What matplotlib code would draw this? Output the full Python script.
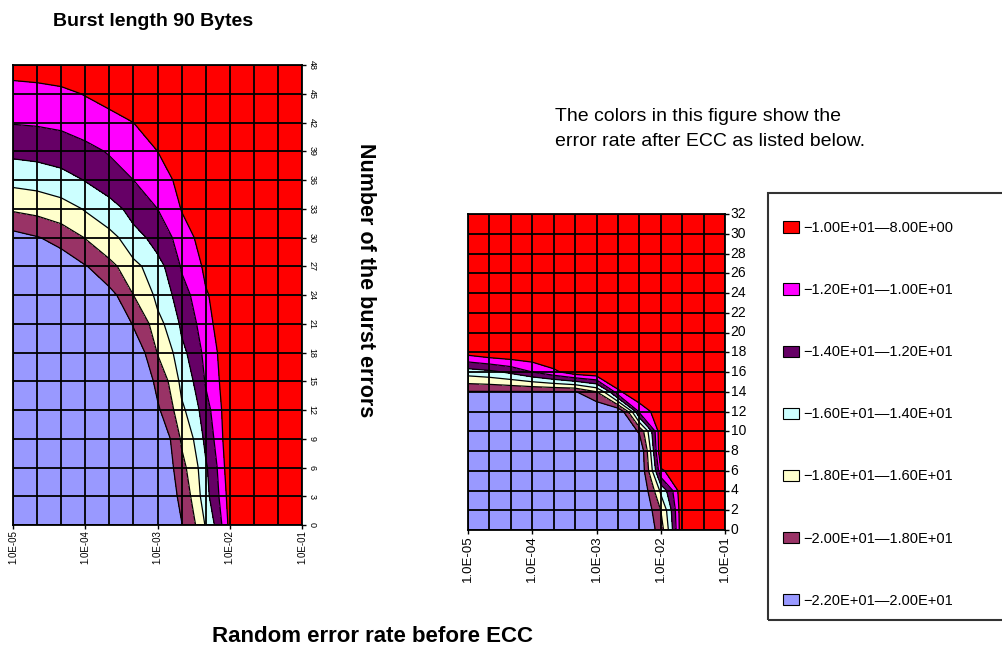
import numpy as np
import matplotlib
matplotlib.use('Agg')
import matplotlib.pyplot as plt
from matplotlib.patches import Patch, Rectangle
from matplotlib.colors import ListedColormap, BoundaryNorm
from matplotlib.ticker import NullFormatter

plt.rcParams['font.family'] = ['Liberation Sans', 'DejaVu Sans']

# ---------------- data ----------------
random_error_rate = [1.0e-05, 2.15e-05, 4.64e-05, 1.0e-04, 2.15e-04, 4.64e-04,
                     1.0e-03, 2.15e-03, 4.64e-03, 1.0e-02, 2.15e-02, 4.64e-02, 1.0e-01]
x_tick_values = [1e-5, 1e-4, 1e-3, 1e-2, 1e-1]
x_tick_labels = ["1.0E-05", "1.0E-04", "1.0E-03", "1.0E-02", "1.0E-01"]

left_burst_counts = [0, 3, 6, 9, 12, 15, 18, 21, 24, 27, 30, 33, 36, 39, 42, 45, 48]
right_burst_counts = [0, 2, 4, 6, 8, 10, 12, 14, 16, 18, 20, 22, 24, 26, 28, 30, 32]

# log10(error rate after ECC); rows = burst counts (bottom to top), cols = random error rate
left_log_error = [
    [-22, -22, -22, -22, -22, -22, -22, -20.1, -15.8, -9.3, -8, -8, -8],
    [-22, -22, -22, -22, -22, -22, -21.9, -19.4, -14.6, -8.9, -8, -8, -8],
    [-22, -22, -22, -22, -22, -22, -21.9, -18.6, -14.3, -8.3, -8, -8, -8],
    [-22, -22, -22, -22, -22, -22, -21.8, -17.7, -13.4, -8, -8, -8, -8],
    [-22, -22, -22, -22, -22, -22, -20.3, -16.4, -12.7, -8, -8, -8, -8],
    [-22, -22, -22, -22, -22, -22, -19.4, -15.4, -11.8, -8, -8, -8, -8],
    [-22, -22, -22, -22, -22, -21.3, -17.9, -14.5, -11.3, -8, -8, -8, -8],
    [-22, -22, -22, -22, -22, -19.8, -16.6, -13.6, -10.6, -8, -8, -8, -8],
    [-22, -22, -22, -22, -20.6, -18.0, -15.4, -12.7, -10.2, -8, -8, -8, -8],
    [-21.8, -21.5, -21.4, -20.1, -18.5, -16.5, -14.6, -11.8, -9.5, -8, -8, -8, -8],
    [-20.7, -20.1, -19.1, -17.9, -16.6, -14.6, -13.2, -10.9, -8.8, -8, -8, -8, -8],
    [-17.7, -17.3, -16.8, -15.8, -14.6, -13.3, -12.0, -9.9, -8.4, -8, -8, -8, -8],
    [-15.4, -15.2, -14.7, -13.9, -13.1, -12.0, -11.2, -9.0, -8, -8, -8, -8, -8],
    [-13.5, -13.3, -13.0, -12.5, -11.8, -11.0, -10.0, -8.5, -8, -8, -8, -8, -8],
    [-11.9, -11.8, -11.6, -11.1, -10.6, -10.0, -9.0, -8.2, -8, -8, -8, -8, -8],
    [-10.6, -10.5, -10.3, -9.9, -9.3, -9.0, -8.5, -8, -8, -8, -8, -8, -8],
    [-9.3, -9.2, -9.1, -9.0, -8.7, -8.6, -8.2, -8, -8, -8, -8, -8, -8],
]

right_log_error = [
    [-22, -22, -22, -22, -22, -22, -22, -22, -22, -19, -8, -8, -8],
    [-22, -22, -22, -22, -22, -22, -22, -22, -22, -18, -8, -8, -8],
    [-22, -22, -22, -22, -22, -22, -22, -22, -22, -15.5, -8, -8, -8],
    [-22, -22, -22, -22, -22, -22, -22, -22, -22, -10.3, -8, -8, -8],
    [-22, -22, -22, -22, -22, -22, -22, -22, -22, -8, -8, -8, -8],
    [-22, -22, -22, -22, -22, -22, -22, -22, -19.7, -8, -8, -8, -8],
    [-22, -22, -22, -22, -22, -22, -22, -22, -11.5, -8, -8, -8, -8],
    [-20.1, -20.1, -20.1, -20.1, -20.1, -20.1, -18, -10.3, -8, -8, -8, -8, -8],
    [-15, -14.5, -13.5, -12, -10.4, -8.6, -8, -8, -8, -8, -8, -8, -8],
    [-9.1, -8.3, -8, -8, -8, -8, -8, -8, -8, -8, -8, -8, -8],
    [-8, -8, -8, -8, -8, -8, -8, -8, -8, -8, -8, -8, -8],
    [-8, -8, -8, -8, -8, -8, -8, -8, -8, -8, -8, -8, -8],
    [-8, -8, -8, -8, -8, -8, -8, -8, -8, -8, -8, -8, -8],
    [-8, -8, -8, -8, -8, -8, -8, -8, -8, -8, -8, -8, -8],
    [-8, -8, -8, -8, -8, -8, -8, -8, -8, -8, -8, -8, -8],
    [-8, -8, -8, -8, -8, -8, -8, -8, -8, -8, -8, -8, -8],
    [-8, -8, -8, -8, -8, -8, -8, -8, -8, -8, -8, -8, -8],
]

levels = [-22, -20, -18, -16, -14, -12, -10, -8]
band_colors = ['#9999FF', '#993366', '#FFFFCC', '#CCFFFF', '#660066', '#FF00FF', '#FF0000']
legend_labels = ["\u22121.00E+01\u20148.00E+00",
                 "\u22121.20E+01\u20141.00E+01",
                 "\u22121.40E+01\u20141.20E+01",
                 "\u22121.60E+01\u20141.40E+01",
                 "\u22121.80E+01\u20141.60E+01",
                 "\u22122.00E+01\u20141.80E+01",
                 "\u22122.20E+01\u20142.00E+01"]

# ---------------- figure ----------------
W, H = 1002, 649
fig = plt.figure(figsize=(W / 100, H / 100), dpi=100)
fig.patch.set_facecolor('white')


def px_axes(x0, y0, x1, y1):
    return fig.add_axes([x0 / W, 1 - y1 / H, (x1 - x0) / W, (y1 - y0) / H])


cmap = ListedColormap(band_colors)
cmap.set_under(band_colors[0])
cmap.set_over(band_colors[-1])
norm = BoundaryNorm(levels, cmap.N)


def draw_panel(ax, yvals, zdata, ymax, xlab_size, ylab_size, ylab_rot):
    X, Y = np.meshgrid(random_error_rate, yvals)
    Z = np.array(zdata, dtype=float)
    ax.contourf(X, Y, Z, levels=levels, cmap=cmap, norm=norm, extend='both', antialiased=False)
    ax.contour(X, Y, Z, levels=levels[1:-1], colors='black', linewidths=0.9,
               linestyles='solid')
    ax.set_xscale('log')
    ax.set_xlim(random_error_rate[0], random_error_rate[-1])
    ax.set_ylim(0, ymax)
    ax.set_xticks(x_tick_values)
    ax.set_xticklabels(x_tick_labels, rotation=90, fontsize=xlab_size)
    ax.set_xticks(random_error_rate, minor=True)
    ax.xaxis.set_minor_formatter(NullFormatter())
    ax.set_yticks(yvals)
    ax.set_yticklabels([str(v) for v in yvals], fontsize=ylab_size, rotation=ylab_rot,
                       va='center')
    ax.yaxis.tick_right()
    ax.tick_params(axis='x', which='major', length=3, width=1, pad=1)
    ax.tick_params(axis='x', which='minor', length=0)
    ax.tick_params(axis='y', length=3, width=1, pad=1, left=False, right=True)
    ax.grid(True, which='both', color='black', linewidth=1.3)
    ax.set_axisbelow(False)
    for s in ax.spines.values():
        s.set_color('black')
        s.set_linewidth(1.3)


axL = px_axes(13, 65, 302, 525)
draw_panel(axL, left_burst_counts, left_log_error, 48, 7, 6.5, -90)

axR = px_axes(468, 214, 725, 530)
draw_panel(axR, right_burst_counts, right_log_error, 32, 9.5, 10, 0)

# ---------------- texts ----------------
fig.text(53 / W, 1 - 21 / H, "Burst length 90 Bytes", fontsize=14, fontweight='bold',
         ha='left', va='center')
fig.text(366 / W, 1 - 280 / H, "Number of the burst errors", fontsize=15.5, fontweight='bold',
         rotation=-90, ha='center', va='center')
fig.text(372 / W, 1 - 637 / H, "Random error rate before ECC", fontsize=16,
         fontweight='bold', ha='center', va='center')
fig.text(555 / W, 1 - 129 / H, "The colors in this figure show the\nerror rate after ECC as listed below.",
         fontsize=14, ha='left', va='center', linespacing=1.65)

# legend box (right edge runs off the figure)
fig.patches.append(Rectangle((768 / W, 1 - 620 / H), 300 / W, 427 / H,
                             transform=fig.transFigure, fill=False,
                             edgecolor='#333333', linewidth=1.5))
handles = [Patch(facecolor=c, edgecolor='black', linewidth=0.8) for c in band_colors[::-1]]
fig.legend(handles, legend_labels, loc='upper left',
           bbox_to_anchor=(783 / W, 1 - 221 / H), frameon=False, fontsize=10.5,
           handlelength=1.1, handleheight=0.8, handletextpad=0.3, labelspacing=3.3,
           borderpad=0, borderaxespad=0)

fig.savefig('out.png', dpi=100)
